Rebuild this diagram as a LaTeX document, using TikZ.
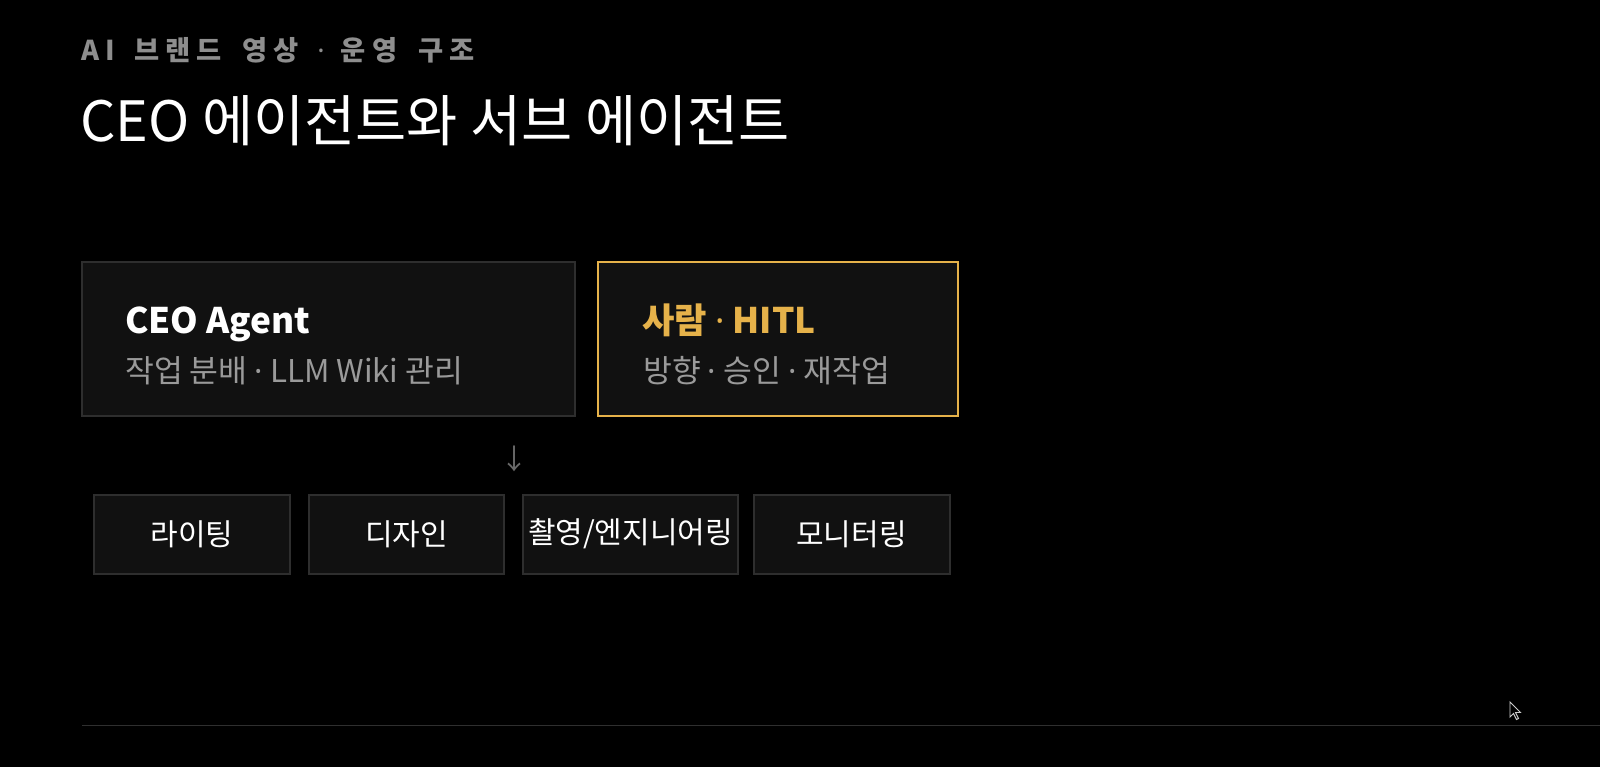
\documentclass[tikz,border=0pt]{standalone}
\usepackage{fontspec}
\setmainfont{Noto Sans CJK KR}
\newfontfamily\latinfont{Noto Sans}
\newcommand{\mdot}{{\latinfont ·}}
\newcommand{\ls}{\hspace{4.5pt}}
\newcommand{\wx}{\hspace{2pt}}
\definecolor{bgc}{HTML}{000000}
\definecolor{boxfill}{HTML}{111111}
\definecolor{boxline}{HTML}{2E2E2E}
\definecolor{gold}{HTML}{E6B24A}
\definecolor{subgray}{HTML}{8E8E8E}
\definecolor{dimgray}{HTML}{9A9A9A}
\definecolor{arrowgray}{HTML}{6A6A6A}
\definecolor{rulegray}{HTML}{2F2F2F}
\tikzset{
  card/.style={draw=boxline, line width=1.5pt, fill=boxfill, inner sep=0pt},
  hcard/.style={draw=gold, line width=1.3pt, fill=boxfill, inner sep=0pt},
  subcard/.style={card, minimum height=59.25pt, font=\fontsize{22.5}{26}\selectfont, text=white},
  txt/.style={inner sep=0pt, anchor=base west},
}
\begin{document}
\begin{tikzpicture}[x=0.75pt,y=-0.75pt]
\fill[bgc] (0,0) rectangle (1600,767);
\useasboundingbox (0,0) rectangle (1600,767);

% header
\node[txt, text=subgray, font=\bfseries\fontsize{20.5}{24}\selectfont] (kicker) at (81,61)
  {A\ls{}I\ls{} \ls{}\hspace{1pt}브\ls{}랜\ls{}드\ls{} \ls{}\wx{}영\ls{}상\ls{} \ls{}{\latinfont\bfseries ·}\ls{}\hspace{3pt} 운\ls{}영\ls{} \ls{}\wx{}구\ls{}조};
\node[txt, text=white, font=\fontsize{41.7}{48}\selectfont] (title) at (80,142) {CEO 에이전트와 서브 에이전트};

% top cards
\node[card, minimum width=369.75pt, minimum height=115.5pt] (ceo) at (328,339) {};
\node[hcard, minimum width=270pt, minimum height=115.5pt] (hitl) at (778,339) {};

\node[txt, text=white, font=\bfseries\fontsize{26.4}{30}\selectfont] (ceoT) at (125,333) {CEO Agent};
\node[txt, text=dimgray, font=\fontsize{23.5}{28}\selectfont] (ceoS) at (125,382) {작업 분배 \mdot{} LLM Wiki 관리};
\node[txt, text=gold, font=\bfseries\fontsize{26.4}{30}\selectfont] (hitlT) at (642,333) {사람 {\latinfont\bfseries ·} HITL};
\node[txt, text=dimgray, font=\fontsize{23.5}{28}\selectfont] (hitlS) at (643,382) {방향 \mdot{} 승인 \mdot{} 재작업};

% arrow glyph
\node[inner sep=0pt, text=arrowgray, font=\fontsize{21}{24}\selectfont] (down) at (514,459) {↓};

% sub agents
\node[subcard, minimum width=147pt] (w) at (192,534) {라이팅};
\node[subcard, minimum width=146.25pt] (d) at (406.5,534) {디자인};
\node[subcard, minimum width=161.25pt] (e) at (630.5,534) {촬영/엔지니어링};
\node[subcard, minimum width=147pt] (m) at (851.5,534) {모니터링};

% bottom rule
\coordinate (ruleA) at (82,725.5);
\coordinate (ruleB) at (1600,725.5);
\draw[rulegray, line width=1.2pt] (ruleA) -- (ruleB);

% mouse pointer
\draw[fill=black, draw=white!80!black, line width=0.7pt, line join=miter]
  (1510,702) -- (1510,717) -- (1513.5,713.5) -- (1516.5,719.5) -- (1518.5,718.5) -- (1515.5,712.5) -- (1520.5,712.5) -- cycle;
\end{tikzpicture}
\end{document}
